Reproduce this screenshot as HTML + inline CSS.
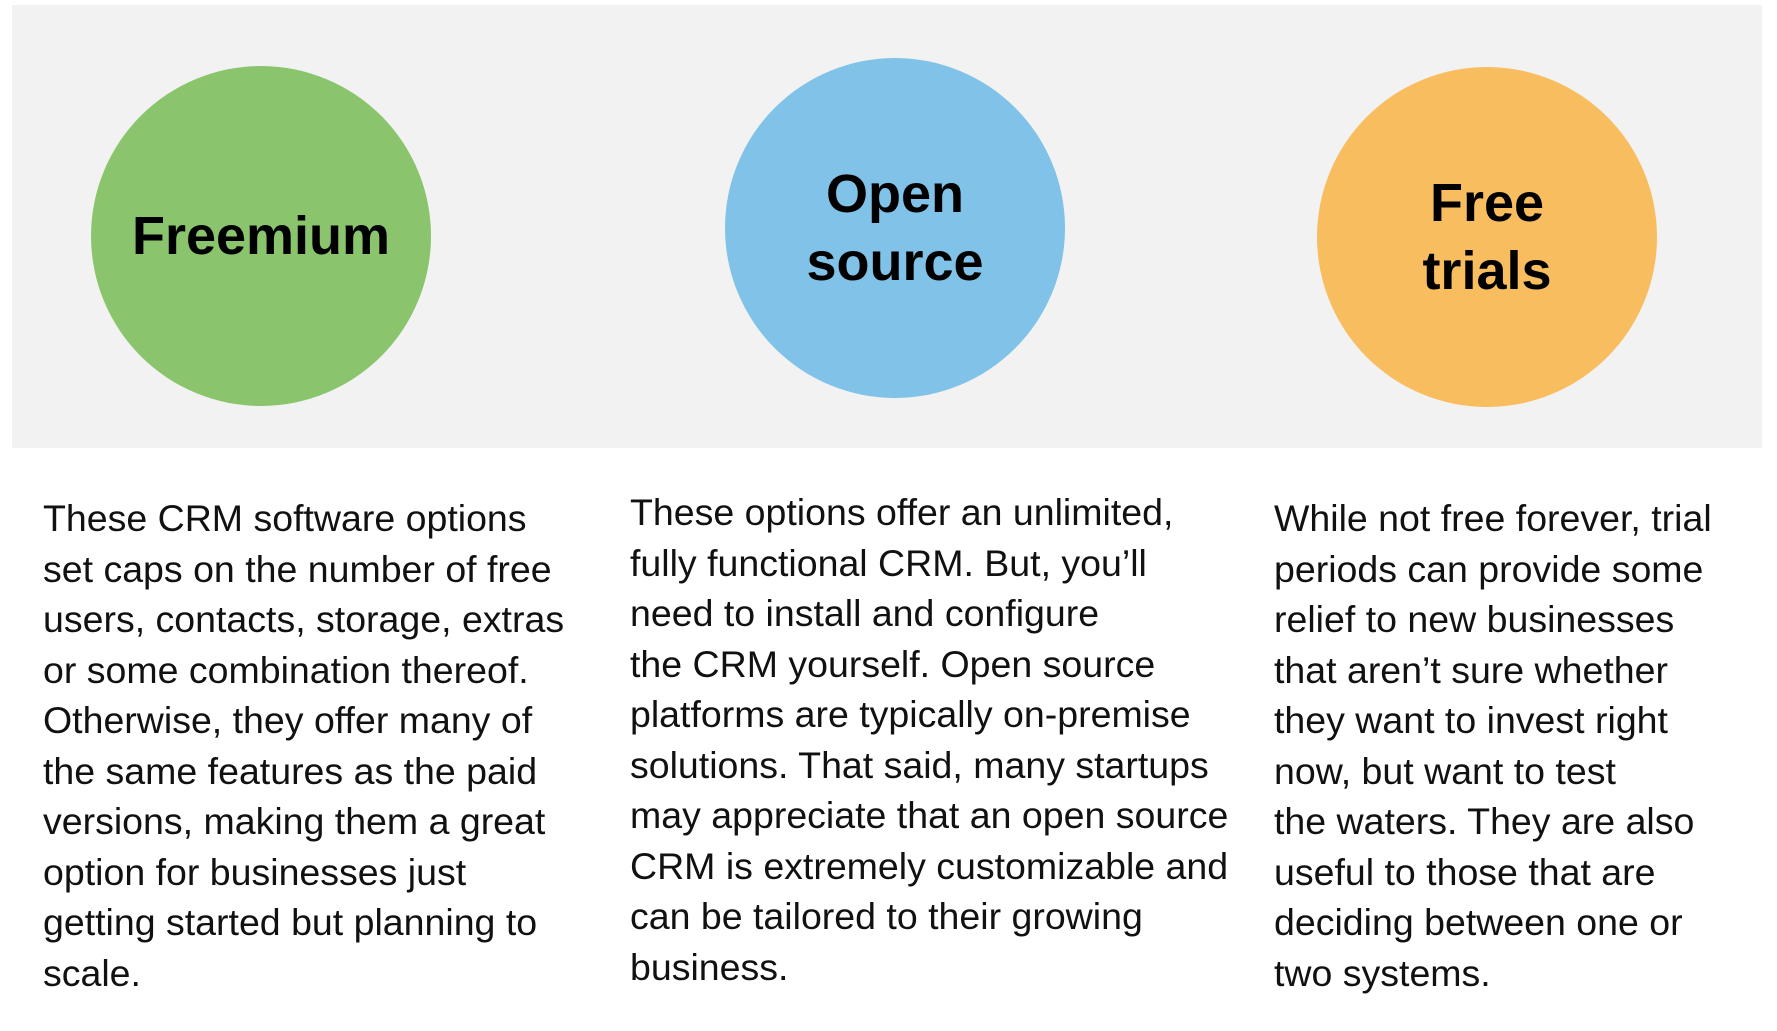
<!DOCTYPE html>
<html><head><meta charset="utf-8"><style>
html,body{margin:0;padding:0;background:#fff;width:1777px;height:1031px;overflow:hidden;position:relative;font-family:"Liberation Sans",sans-serif;}
.panel{position:absolute;left:12px;top:5px;width:1750px;height:443px;background:#f2f2f2;}
.c{position:absolute;width:340px;height:340px;border-radius:50%;display:flex;align-items:center;justify-content:center;text-align:center;font-weight:bold;font-size:54px;line-height:68px;color:#000;}
.col{position:absolute;font-size:37.5px;line-height:50.5px;color:#111;white-space:nowrap;}
</style></head><body>
<div class="panel"></div>
<div class="c" style="left:91px;top:66px;background:#8ac56d;">Freemium</div>
<div class="c" style="left:725px;top:58px;background:#80c2e8;">Open<br>source</div>
<div class="c" style="left:1317px;top:67px;background:#f8bd5e;">Free<br>trials</div>
<div class="col" style="left:43px;top:493px;">These CRM software options<br>set caps on the number of free<br>users, contacts, storage, extras<br>or some combination thereof.<br>Otherwise, they offer many of<br>the same features as the paid<br>versions, making them a great<br>option for businesses just<br>getting started but planning to<br>scale.</div>
<div class="col" style="left:630px;top:487px;">These options offer an unlimited,<br>fully functional CRM. But, you’ll<br>need to install and configure<br>the CRM yourself. Open source<br>platforms are typically on-premise<br>solutions. That said, many startups<br>may appreciate that an open source<br>CRM is extremely customizable and<br>can be tailored to their growing<br>business.</div>
<div class="col" style="left:1274px;top:493px;">While not free forever, trial<br>periods can provide some<br>relief to new businesses<br>that aren’t sure whether<br>they want to invest right<br>now, but want to test<br>the waters. They are also<br>useful to those that are<br>deciding between one or<br>two systems.</div>
</body></html>
